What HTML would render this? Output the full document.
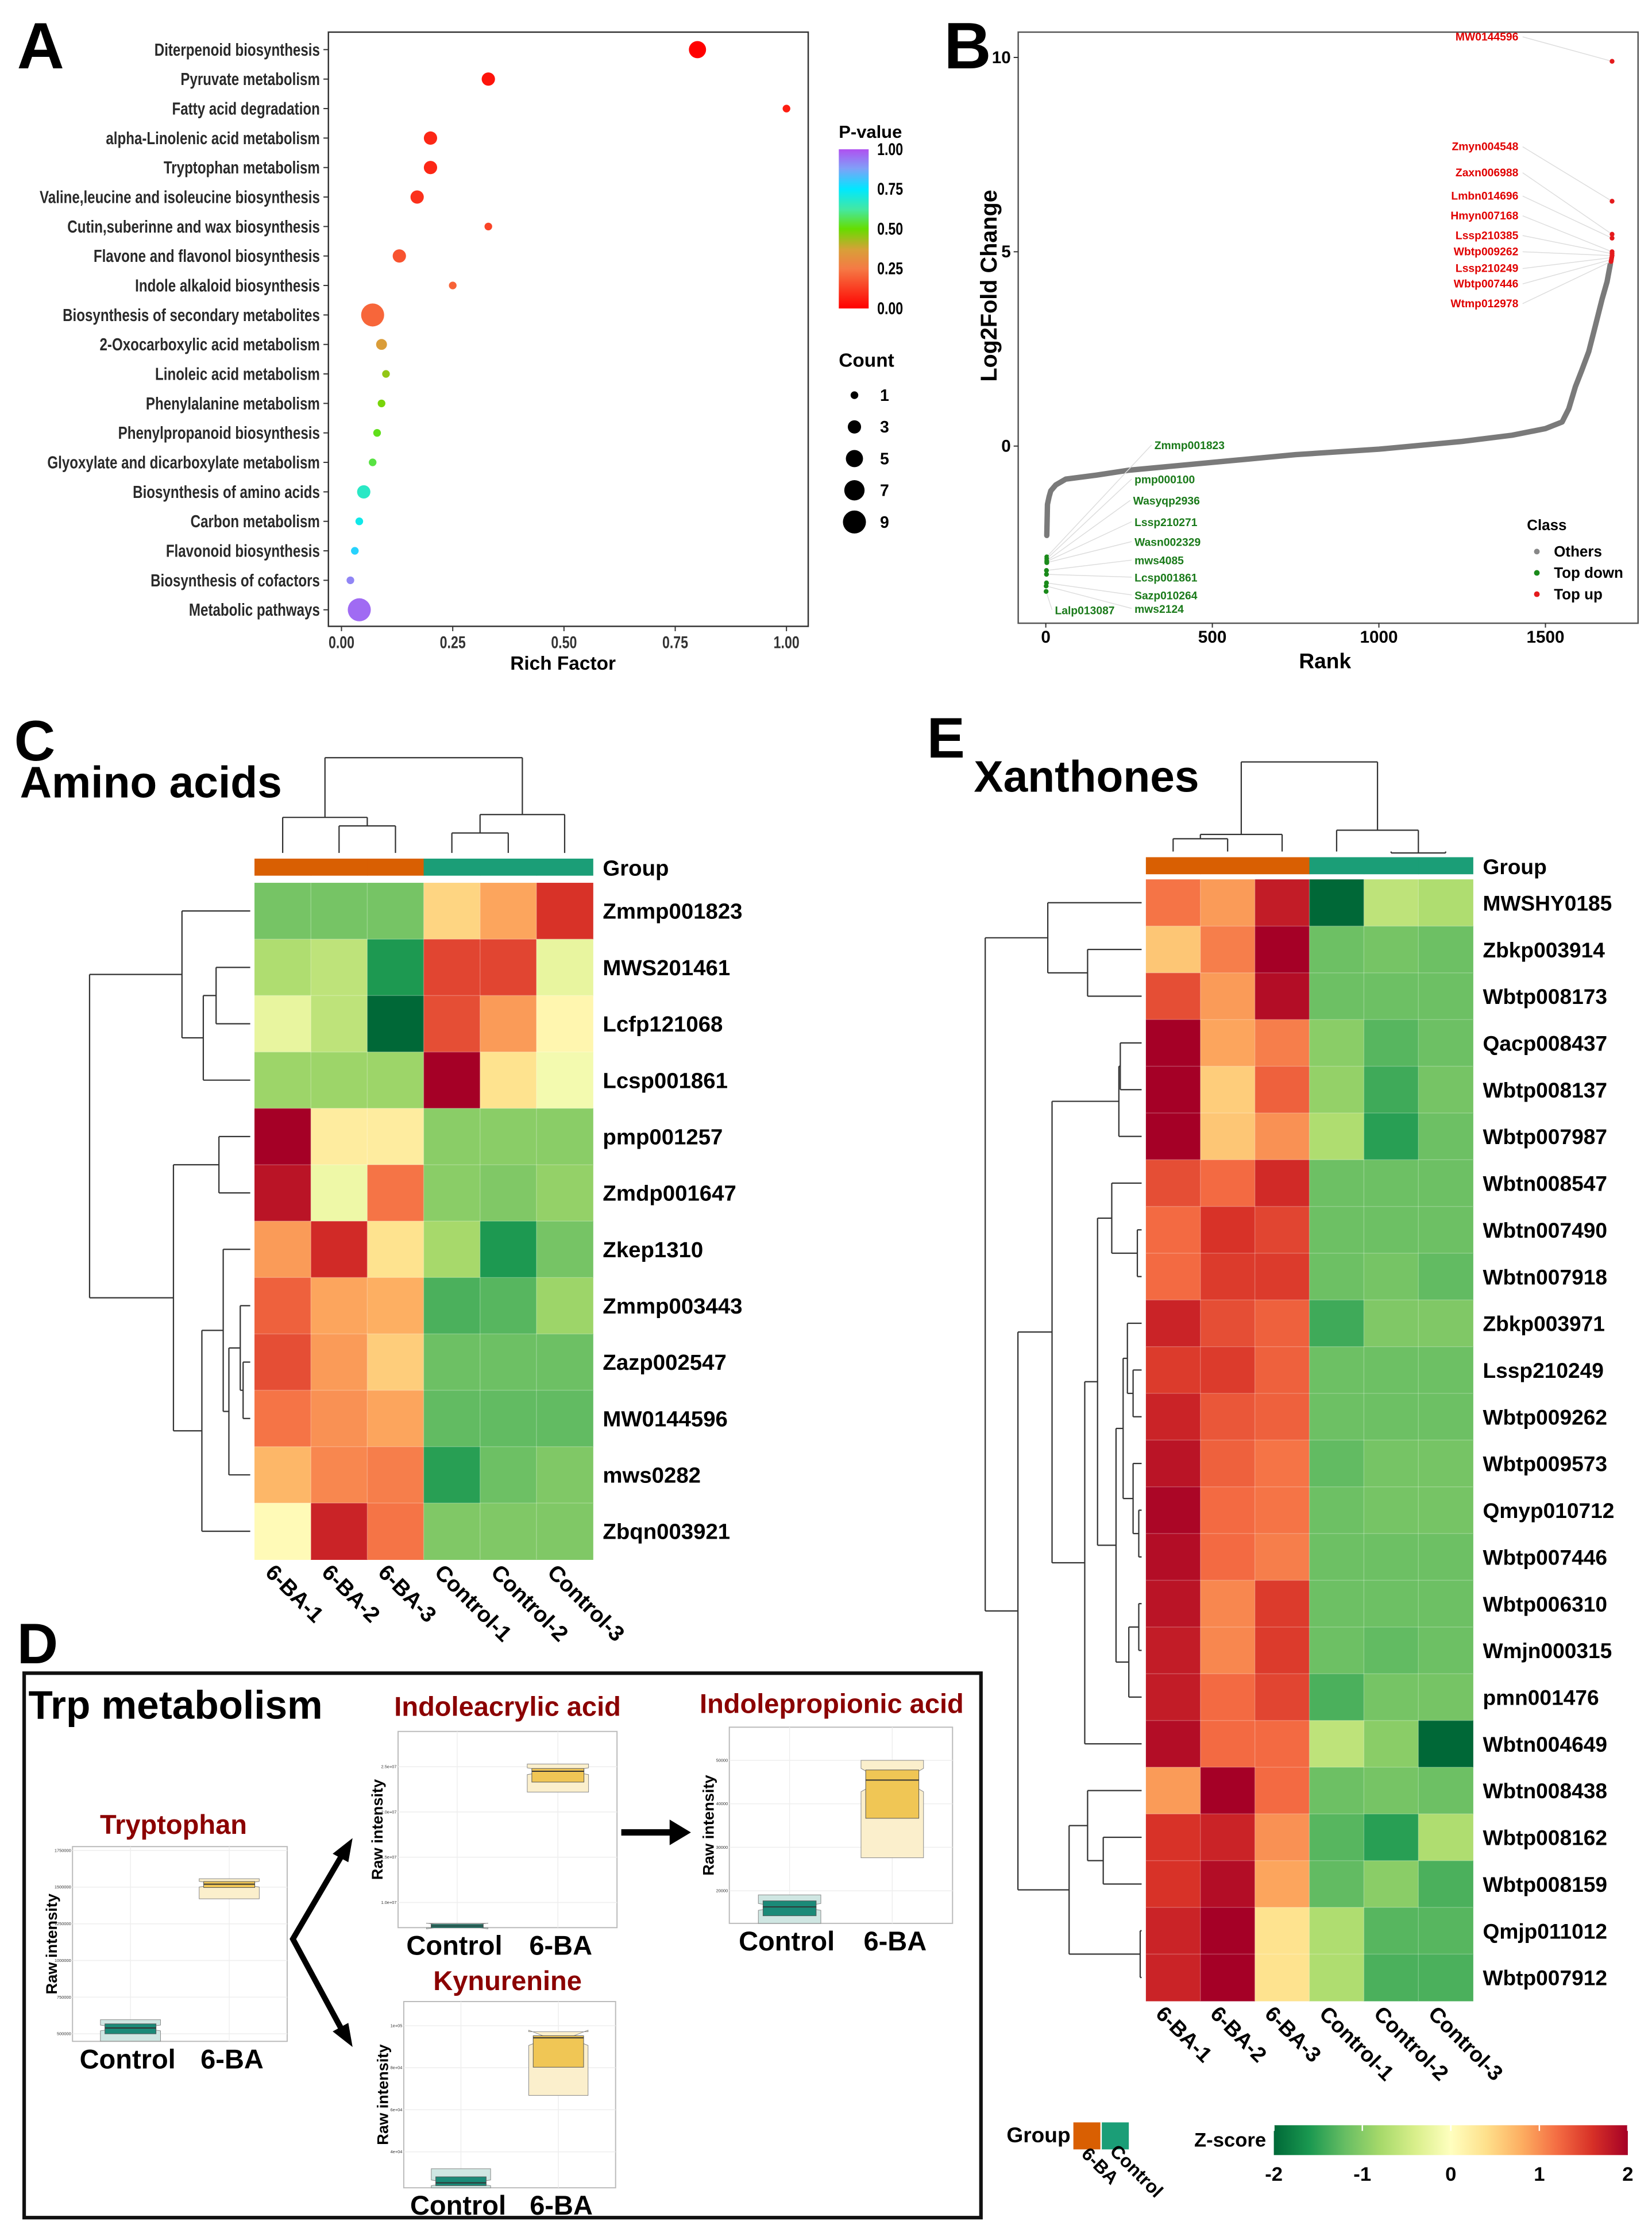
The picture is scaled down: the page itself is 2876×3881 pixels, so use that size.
<!DOCTYPE html>
<html><head><meta charset="utf-8">
<style>
html,body{margin:0;padding:0;background:#fff;}
svg{display:block;font-family:"Liberation Sans",Arial,sans-serif;}
text{font-family:"Liberation Sans",Arial,sans-serif;}
</style></head>
<body>
<svg id="fig" xmlns="http://www.w3.org/2000/svg" width="2876" height="3881" viewBox="0 0 1162 1568" preserveAspectRatio="none">
<rect x="0" y="0" width="1162" height="1568" fill="#fff"/>
<text x="12" y="48" font-size="46" font-weight="bold">A</text>
<text x="664" y="48" font-size="46" font-weight="bold">B</text>
<text x="10" y="535" font-size="40" font-weight="bold">C</text>
<text x="12" y="1170" font-size="40" font-weight="bold">D</text>
<text x="652" y="533" font-size="40" font-weight="bold">E</text>
<text x="14" y="561" font-size="31" font-weight="bold">Amino acids</text>
<text x="685" y="557" font-size="31" font-weight="bold">Xanthones</text>
<rect x="17" y="1177" width="673" height="383" fill="none" stroke="#111" stroke-width="2.5"/>
<text x="20" y="1209" font-size="28" font-weight="bold">Trp metabolism</text>
</svg>
<script>
// ---------- Panel A data ----------
const pathways=["Diterpenoid biosynthesis","Pyruvate metabolism","Fatty acid degradation","alpha-Linolenic acid metabolism","Tryptophan metabolism","Valine,leucine and isoleucine biosynthesis","Cutin,suberinne and wax biosynthesis","Flavone and flavonol biosynthesis","Indole alkaloid biosynthesis","Biosynthesis of secondary metabolites","2-Oxocarboxylic acid metabolism","Linoleic acid metabolism","Phenylalanine metabolism","Phenylpropanoid biosynthesis","Glyoxylate and dicarboxylate metabolism","Biosynthesis of amino acids","Carbon metabolism","Flavonoid biosynthesis","Biosynthesis of cofactors","Metabolic pathways"];
const richFactor=[0.80,0.33,1.00,0.20,0.20,0.17,0.33,0.13,0.25,0.07,0.09,0.10,0.09,0.08,0.07,0.05,0.04,0.03,0.02,0.04];
const pValue=[0.00,0.04,0.06,0.08,0.08,0.10,0.14,0.17,0.20,0.21,0.36,0.45,0.48,0.52,0.55,0.67,0.72,0.79,0.92,0.96];
const geneCount=[5,3,1,3,3,3,1,3,1,9,2,1,1,1,1,3,1,1,1,9];
const richTicks=[0,0.25,0.5,0.75,1.0];
const pTicks=[1.00,0.75,0.50,0.25,0.00];
const countLegend=[1,3,5,7,9];
// ---------- Panel B data ----------
const curveRank=[3,5,10,15,30,60,150,250,500,750,1000,1250,1400,1500,1550,1570,1590,1610,1630,1650,1670,1685,1695];
const curveLFC=[-2.3,-1.5,-1.3,-1.15,-1.0,-0.85,-0.75,-0.62,-0.42,-0.22,-0.08,0.12,0.28,0.45,0.62,0.96,1.53,1.97,2.43,3.1,3.78,4.23,4.69];
const upNames=["MW0144596","Zmyn004548","Zaxn006988","Lmbn014696","Hmyn007168","Lssp210385","Wbtp009262","Lssp210249","Wbtp007446","Wtmp012978"];
const upRank=[1700,1700,1700,1700,1700,1700,1700,1699,1698,1697];
const upLFC=[9.9,6.3,5.45,5.35,5.0,4.95,4.9,4.85,4.8,4.75];
const downNames=["Zmmp001823","pmp000100","Wasyqp2936","Lssp210271","Wasn002329","mws4085","Lcsp001861","Sazp010264","mws2124","Lalp013087"];
const downRank=[3,3,3,3,3,2,2,2,1,1];
const downLFC=[-2.85,-2.9,-2.95,-2.97,-3.0,-3.2,-3.3,-3.52,-3.6,-3.74];
const rankTicks=[0,500,1000,1500];
const lfcTicks=[0,5,10];
// ---------- Heatmap C data ----------
const samples=["6-BA-1","6-BA-2","6-BA-3","Control-1","Control-2","Control-3"];
const aminoRows=["Zmmp001823","MWS201461","Lcfp121068","Lcsp001861","pmp001257","Zmdp001647","Zkep1310","Zmmp003443","Zazp002547","MW0144596","mws0282","Zbqn003921"];
const aminoZ=[
[-0.9,-0.9,-0.9,0.4,0.7,1.3],
[-0.6,-0.5,-1.3,1.2,1.2,-0.2],
[-0.2,-0.5,-2.0,1.15,0.75,0.1],
[-0.7,-0.7,-0.7,2.0,0.3,-0.1],
[1.9,0.2,0.2,-0.8,-0.8,-0.8],
[1.5,-0.15,0.95,-0.8,-0.85,-0.75],
[0.75,1.35,0.3,-0.65,-1.3,-0.9],
[1.05,0.7,0.65,-1.1,-1.05,-0.7],
[1.15,0.75,0.45,-0.95,-0.95,-0.95],
[0.95,0.8,0.7,-1.0,-1.0,-1.0],
[0.6,0.85,0.9,-1.25,-0.95,-0.85],
[0.05,1.4,0.95,-0.85,-0.85,-0.85]];
// ---------- Heatmap E data ----------
const xanRows=["MWSHY0185","Zbkp003914","Wbtp008173","Qacp008437","Wbtp008137","Wbtp007987","Wbtn008547","Wbtn007490","Wbtn007918","Zbkp003971","Lssp210249","Wbtp009262","Wbtp009573","Qmyp010712","Wbtp007446","Wbtp006310","Wmjn000315","pmn001476","Wbtn004649","Wbtn008438","Wbtp008162","Wbtp008159","Qmjp011012","Wbtp007912"];
const xanZ=[
[0.95,0.75,1.45,-2.0,-0.5,-0.6],
[0.5,0.9,2.0,-0.95,-0.9,-0.95],
[1.15,0.75,1.55,-0.95,-0.95,-0.95],
[1.8,0.7,0.9,-0.8,-1.05,-0.95],
[1.8,0.45,1.05,-0.75,-1.15,-0.9],
[1.95,0.5,0.8,-0.6,-1.25,-0.95],
[1.15,1.0,1.35,-0.95,-0.95,-0.95],
[1.0,1.3,1.2,-0.95,-0.95,-0.95],
[1.0,1.25,1.25,-0.95,-0.9,-1.0],
[1.4,1.15,1.05,-1.15,-0.85,-0.85],
[1.25,1.25,1.05,-0.95,-0.95,-0.95],
[1.4,1.1,1.05,-0.95,-0.95,-0.95],
[1.5,1.05,0.95,-1.0,-0.9,-0.9],
[1.6,1.0,0.95,-0.95,-0.9,-0.9],
[1.55,1.0,0.9,-0.95,-0.95,-0.95],
[1.5,0.85,1.25,-0.95,-0.95,-0.95],
[1.45,0.85,1.25,-0.95,-1.0,-0.95],
[1.45,1.0,1.2,-1.1,-0.9,-0.9],
[1.55,1.0,1.0,-0.5,-0.8,-1.7],
[0.75,1.8,1.0,-0.95,-0.9,-0.95],
[1.3,1.4,0.8,-1.05,-1.25,-0.6],
[1.3,1.55,0.7,-1.0,-0.8,-1.1],
[1.4,1.7,0.3,-0.6,-1.05,-1.05],
[1.4,1.7,0.3,-0.6,-1.1,-1.1]];
const zTicks=[-2,-1,0,1,2];
// ---------- Panel D data (q1, median, q3, lo, hi) ----------
const trpControl=[500000,540000,568000,450000,596000];
const trp6BA=[1497000,1520000,1538000,1420000,1557000];
const trpTicks=[500000,750000,1000000,1250000,1500000,1750000];
const acrControl=[7200000,7400000,7600000,7000000,7700000];
const acr6BA=[23300000,24500000,24800000,22200000,25300000];
const acrTicks=[10000000,15000000,20000000,25000000];
const proControl=[14260,16300,17690,12130,19070];
const pro6BA=[36670,45460,47780,27590,50000];
const proTicks=[20000,30000,40000,50000];
const kynControl=[23900,25240,28110,22750,31950];
const kyn6BA=[80260,94250,95210,66840,97130];
const kynTicks=[40000,60000,80000,100000];

const NS='http://www.w3.org/2000/svg';
const svg=document.getElementById('fig');
function mk(tag,attrs,parent){const e=document.createElementNS(NS,tag);for(const k in attrs)e.setAttribute(k,attrs[k]);(parent||svg).appendChild(e);return e;}
function lerpHex(a,b,t){const pa=[1,3,5].map(i=>parseInt(a.substr(i,2),16)),pb=[1,3,5].map(i=>parseInt(b.substr(i,2),16));return 'rgb('+pa.map((v,i)=>Math.round(v+(pb[i]-v)*t)).join(',')+')';}
function ramp(stops,v){if(v<=stops[0][0])return lerpHex(stops[0][1],stops[0][1],0);for(let i=1;i<stops.length;i++){if(v<=stops[i][0]){const t=(v-stops[i-1][0])/(stops[i][0]-stops[i-1][0]);return lerpHex(stops[i-1][1],stops[i][1],t);}}return lerpHex(stops[stops.length-1][1],stops[stops.length-1][1],0);}
const pStops=[[0,'#ff0000'],[0.25,'#f57a45'],[0.37,'#d8a038'],[0.5,'#66dd00'],[0.62,'#44e8a0'],[0.75,'#00e8ff'],[0.88,'#80a0f8'],[1,'#b050f0']];
const zStops=[[-2,'#006837'],[-1.6,'#1a9850'],[-1.2,'#66bd63'],[-0.8,'#a6d96a'],[-0.4,'#d9ef8b'],[0,'#ffffbf'],[0.4,'#fee08b'],[0.8,'#fdae61'],[1.2,'#f46d43'],[1.6,'#d73027'],[2,'#a50026']];
const zGain=1.22;
const defs=mk('defs',{});

// ================= PANEL A =================
const gA=mk('g',{});


const ax=v=>240.2+v*313, ay=i=>34.9+i*20.74;
let e=mk('rect',{x:231,y:22.6,width:337.5,height:418,fill:'#fff',stroke:'#333','stroke-width':1},gA);


pathways.forEach((p,i)=>{
  const t=mk('line',{x1:227.5,x2:231,y1:ay(i),y2:ay(i),stroke:'#333','stroke-width':0.8},gA);
  
  
  const l=mk('text',{x:225,y:ay(i)+4.2,'font-size':12.5,'font-weight':'bold',fill:'#2a2a2a','text-anchor':'end',class:'cond'},gA);
  l.textContent=p;
  
  
});
richTicks.forEach(v=>{
  const t=mk('line',{x1:ax(v),x2:ax(v),y1:440.6,y2:444,stroke:'#333','stroke-width':0.8},gA);
  
  
  const l=mk('text',{x:ax(v),y:456,'font-size':12,'font-weight':'bold',fill:'#333','text-anchor':'middle',class:'cond'},gA);
  l.textContent=v.toFixed(2);
  
  
});
e=mk('text',{x:396,y:471,'font-size':13.5,'font-weight':'bold','text-anchor':'middle'},gA);
e.textContent='Rich Factor';


pathways.forEach((p,i)=>{
  const c=mk('circle',{cx:ax(richFactor[i]),cy:ay(i),r:2.7*Math.sqrt(geneCount[i]),fill:ramp(pStops,pValue[i])},gA);
  
  
});
const lgP=mk('linearGradient',{id:'pgrad',x1:0,y1:1,x2:0,y2:0},defs);
pStops.forEach(s=>{mk('stop',{offset:s[0],'stop-color':s[1]},lgP);});
e=mk('text',{x:590,y:97,'font-size':12.5,'font-weight':'bold'},gA);
e.textContent='P-value';


e=mk('rect',{x:590,y:105,width:21,height:112,fill:'url(#pgrad)'},gA);


pTicks.forEach(v=>{
  const y=105+(1-v)*112;
  const l=mk('text',{x:617,y:y+4,'font-size':12,'font-weight':'bold',class:'cond'},gA);
  l.textContent=v.toFixed(2);
  
  
});
e=mk('text',{x:590,y:258,'font-size':13.5,'font-weight':'bold'},gA);
e.textContent='Count';


countLegend.forEach((c,i)=>{
  const y=278+i*22.3;
  const d=mk('circle',{cx:601,cy:y,r:2.7*Math.sqrt(c),fill:'#000'},gA);
  
  
  const l=mk('text',{x:619,y:y+4,'font-size':11.5,'font-weight':'bold'},gA);
  l.textContent=c;
  
  
});

// ================= PANEL B =================
const gB=mk('g',{});


const bx=r=>735.6+r*0.2343, by=v=>313.8-v*27.34;
e=mk('rect',{x:716.2,y:22.6,width:436,height:415.8,fill:'#fff',stroke:'#555','stroke-width':1},gB);


rankTicks.forEach(v=>{
  const t=mk('line',{x1:bx(v),x2:bx(v),y1:438.4,y2:441.5,stroke:'#333','stroke-width':0.8},gB);
  
  
  const l=mk('text',{x:bx(v),y:452,'font-size':12,'font-weight':'bold','text-anchor':'middle'},gB);
  l.textContent=v;
  
  
});
lfcTicks.forEach(v=>{
  const t=mk('line',{x1:713,x2:716.2,y1:by(v),y2:by(v),stroke:'#333','stroke-width':0.8},gB);
  
  
  const l=mk('text',{x:711,y:by(v)+4,'font-size':12,'font-weight':'bold','text-anchor':'end'},gB);
  l.textContent=v;
  
  
});
e=mk('text',{x:932,y:470,'font-size':15,'font-weight':'bold','text-anchor':'middle'},gB);
e.textContent='Rank';


e=mk('text',{x:0,y:0,'font-size':16,'font-weight':'bold','text-anchor':'middle',transform:'translate(701,201) rotate(-90)'},gB);
e.textContent='Log2Fold Change';


e=mk('polyline',{points:curveRank.map((r,i)=>bx(r)+','+by(curveLFC[i])).join(' '),fill:'none',stroke:'#7a7a7a','stroke-width':3.8,'stroke-linejoin':'round','stroke-linecap':'round'},gB);


const upLabelY=[28.4,105.7,124,140.4,154.3,168.2,179.6,191.4,202.2,216.1];
upNames.forEach((n,i)=>{
  const px=bx(upRank[i]),py=by(upLFC[i]);
  const ln=mk('line',{x1:1071,y1:upLabelY[i]-2.5,x2:px,y2:py,stroke:'#ddd','stroke-width':0.6},gB);
  
  
  const c=mk('circle',{cx:px,cy:py,r:1.7,fill:'#e41a1c'},gB);
  
  
  const l=mk('text',{x:1068,y:upLabelY[i],'font-size':7.8,'font-weight':'bold',fill:'#e00000','text-anchor':'end'},gB);
  l.textContent=n;
  
  
});
const downLabelPos=[[812,316],[798,340],[797,355],[798,370],[798,384],[798,397],[798,409],[798,421.5],[798,431],[742,432]];
downNames.forEach((n,i)=>{
  const px=bx(downRank[i]),py=by(downLFC[i]);
  const ln=mk('line',{x1:downLabelPos[i][0]-2,y1:downLabelPos[i][1]-3,x2:px,y2:py,stroke:'#ddd','stroke-width':0.6},gB);
  
  
  const c=mk('circle',{cx:px,cy:py,r:1.7,fill:'#1a8a1a'},gB);
  
  
  const l=mk('text',{x:downLabelPos[i][0],y:downLabelPos[i][1],'font-size':7.8,'font-weight':'bold',fill:'#1a7a1a'},gB);
  l.textContent=n;
  
  
});
e=mk('text',{x:1074,y:373,'font-size':10.5,'font-weight':'bold'},gB);
e.textContent='Class';


[['Others','#888'],['Top down','#1a8a1a'],['Top up','#e41a1c']].forEach((c,i)=>{
  const d=mk('circle',{cx:1081,cy:388+i*15,r:2,fill:c[1]},gB);
  
  
  const l=mk('text',{x:1093,y:391.5+i*15,'font-size':10.5,'font-weight':'bold'},gB);
  l.textContent=c[0];
  
  
});

// ================= HEATMAPS =================
function dendro(node,orient,leafPos,leafEdge,g){
  if(typeof node==='number') return [leafPos(node),leafEdge];
  const a=dendro(node[0],orient,leafPos,leafEdge,g), b=dendro(node[1],orient,leafPos,leafEdge,g);
  const h=node[2];
  const segs=orient==='row'?[[h,a[0],h,b[0]],[h,a[0],a[1],a[0]],[h,b[0],b[1],b[0]]]:[[a[0],h,b[0],h],[a[0],h,a[0],a[1]],[b[0],h,b[0],b[1]]];
  segs.forEach(s=>{
    const l=mk('line',{x1:s[0],y1:s[1],x2:s[2],y2:s[3],stroke:'#333','stroke-width':0.9},g);
    
    
  });
  return [(a[0]+b[0])/2,h];
}
function heatmap(cfg){
  const g=mk('g',{});
  
  
  const cw=(cfg.x1-cfg.x0)/6, ch=(cfg.y1-cfg.y0)/cfg.rows.length;
  cfg.z.forEach((row,r)=>row.forEach((v,c)=>{
    const cell=mk('rect',{x:cfg.x0+c*cw,y:cfg.y0+r*ch,width:cw+0.3,height:ch+0.3,fill:ramp(zStops,v*zGain)},g);
    
    
  }));
  for(let c=1;c<6;c++){const l=mk('line',{x1:cfg.x0+c*cw,x2:cfg.x0+c*cw,y1:cfg.y0,y2:cfg.y1,stroke:'#fff','stroke-opacity':0.25,'stroke-width':0.6},g);}
  for(let r=1;r<cfg.rows.length;r++){const l=mk('line',{x1:cfg.x0,x2:cfg.x1,y1:cfg.y0+r*ch,y2:cfg.y0+r*ch,stroke:'#fff','stroke-opacity':0.25,'stroke-width':0.6},g);}
  cfg.rows.forEach((n,r)=>{
    const l=mk('text',{x:cfg.x1+7,y:cfg.y0+(r+0.5)*ch+5.5,'font-size':cfg.fs,'font-weight':'bold'},g);
    l.textContent=n;
    
    
  });
  for(let c=0;c<6;c++){
    const gb=mk('rect',{x:cfg.x0+c*cw,y:cfg.gy,width:cw+0.3,height:12,fill:c<3?'#d95f02':'#1b9e77'},g);
    
    
    const cx=cfg.x0+(c+0.5)*cw;
    const l=mk('text',{x:0,y:0,'font-size':cfg.fs,'font-weight':'bold',transform:'translate('+(cx-13)+','+(cfg.y1+10)+') rotate(45)'},g);
    l.textContent=samples[c];
    
    
  }
  const gl=mk('text',{x:cfg.x1+7,y:cfg.gy+12,'font-size':cfg.fs,'font-weight':'bold'},g);
  gl.textContent='Group';
  
  
  dendro(cfg.rowTree,'row',r=>cfg.y0+(r+0.5)*ch,cfg.x0-3,g);
  dendro(cfg.colTree,'col',c=>cfg.x0+(c+0.5)*cw,cfg.gy-4,g);
}
heatmap({name:'amino-acids-heatmap',x0:179,x1:417,y0:621,y1:1097,gy:604,fs:15.5,rows:aminoRows,z:aminoZ,
  rowTree:[[0,[[1,2,152],3,143],128],[[4,5,154],[[6,[[7,[8,9,171],169],10,161],157],11,142],122],63],
  colTree:[[0,[1,2,581],575],[[3,4,586],5,573],533]});
heatmap({name:'xanthones-heatmap',x0:806,x1:1036,y0:618.6,y1:1407.5,gy:603,fs:15,rows:xanRows,z:xanZ,
  rowTree:[[0,[1,2,765],737],[[[[3,4,788],5,787],[[[6,[7,8,800],782],[[[9,[10,11,797],793],[12,[13,14,801],797],790],[[15,16,801],17,794],785],772],18,763],740],[[19,[20,21,776],765],[22,23,802],752],716],693],
  colTree:[[[0,1,590],2,587],[3,[4,5,600],584],536]});
e=mk('text',{x:708,y:1507,'font-size':15,'font-weight':'bold'});
e.textContent='Group';


e=mk('rect',{x:755,y:1493,width:19,height:19,fill:'#d95f02'});


e=mk('rect',{x:775,y:1493,width:19,height:19,fill:'#1b9e77'});


e=mk('text',{x:0,y:0,'font-size':13,'font-weight':'bold',transform:'translate(760,1516) rotate(45)'});
e.textContent='6-BA';


e=mk('text',{x:0,y:0,'font-size':13,'font-weight':'bold',transform:'translate(780,1514) rotate(45)'});
e.textContent='Control';


const lgZ=mk('linearGradient',{id:'zgrad',x1:0,y1:0,x2:1,y2:0},defs);
zStops.forEach(s=>{mk('stop',{offset:(s[0]+2)/4,'stop-color':s[1]},lgZ);});
e=mk('text',{x:840,y:1510,'font-size':14,'font-weight':'bold'});
e.textContent='Z-score';


e=mk('rect',{x:896,y:1495,width:249,height:21,fill:'url(#zgrad)'});


zTicks.forEach(v=>{
  const x=896+(v+2)/4*249;
  const t=mk('line',{x1:x,x2:x,y1:1495,y2:1499,stroke:'#fff','stroke-width':1});
  
  
  const l=mk('text',{x:x,y:1534,'font-size':14,'font-weight':'bold','text-anchor':'middle'});
  l.textContent=v;
  
  
});

// ================= PANEL D =================
function boxPanel(cfg){
  const g=mk('g',{});
  
  
  const [x0,y0,x1,y1]=cfg.rect;
  const vy=v=>cfg.yA+(v-cfg.vA)*(cfg.yB-cfg.yA)/(cfg.vB-cfg.vA);
  let r=mk('rect',{x:x0,y:y0,width:x1-x0,height:y1-y0,fill:'#fff',stroke:'#bbb','stroke-width':0.8},g);
  
  
  const cxs=[x0+(x1-x0)*0.27,x0+(x1-x0)*0.73];
  cxs.forEach(cx=>{const l=mk('line',{x1:cx,x2:cx,y1:y0,y2:y1,stroke:'#eee','stroke-width':0.6},g);});
  cfg.ticks.forEach(v=>{
    const y=vy(v);
    const l=mk('line',{x1:x0,x2:x1,y1:y,y2:y,stroke:'#eee','stroke-width':0.6},g);
    
    
    const t=mk('text',{x:x0-1,y:y+1,'font-size':3,'text-anchor':'end',fill:'#333'},g);
    t.textContent=cfg.fmt(v);
    
    
  });
  [[cfg.control,'#1b8a78','#cfe6e2'],[cfg.ba,'#f0c655','#fbefcc']].forEach((d,i)=>{
    const cx=cxs[i], w=(x1-x0)*0.14;
    const [q1,md,q3,lo,hi]=d[0];
    const yl=Math.min(vy(lo),y1), yh=vy(hi), ym=vy(md);
    const n=Math.max(2,(yl-yh)*0.12);
    const pts=[[cx-w,yh],[cx+w,yh],[cx+w,ym-n],[cx+w*0.35,ym],[cx+w,ym+n],[cx+w,yl],[cx-w,yl],[cx-w,ym+n],[cx-w*0.35,ym],[cx-w,ym-n]];
    const v=mk('polygon',{points:pts.map(p=>p.join(',')).join(' '),fill:d[2],stroke:'#888','stroke-width':0.4},g);
    
    
    const b=mk('rect',{x:cx-w*0.85,y:vy(q3),width:w*1.7,height:Math.max(1.5,vy(q1)-vy(q3)),fill:d[1],stroke:'#555','stroke-width':0.4},g);
    
    
    const m=mk('line',{x1:cx-w*0.85,x2:cx+w*0.85,y1:ym,y2:ym,stroke:'#333','stroke-width':0.8},g);
    
    
  });
  const t=mk('text',{x:cfg.tx,y:cfg.ty,'font-size':19,'font-weight':'bold',fill:'#8b0000','text-anchor':'middle'},g);
  t.textContent=cfg.title;
  
  
  const yl=mk('text',{x:0,y:0,'font-size':11,'font-weight':'bold','text-anchor':'middle',transform:'translate('+(x0-11)+','+((y0+y1)/2)+') rotate(-90)'},g);
  yl.textContent='Raw intensity';
  
  
  ['Control','6-BA'].forEach((s,i)=>{
    const l=mk('text',{x:cxs[i]+(i?2:-2),y:y1+19,'font-size':19,'font-weight':'bold','text-anchor':'middle'},g);
    l.textContent=s;
    
    
  });
}
boxPanel({name:'tryptophan-boxplot',rect:[51,1299,202,1436],vA:500000,yA:1430.7,vB:1750000,yB:1301.7,ticks:trpTicks,fmt:v=>String(v),control:trpControl,ba:trp6BA,title:'Tryptophan',tx:122,ty:1290});
boxPanel({name:'indoleacrylic-acid-boxplot',rect:[280,1218,434,1356],vA:10000000,yA:1338.3,vB:25000000,yB:1242.8,ticks:acrTicks,fmt:v=>(v/1e7).toFixed(1)+'e+07',control:acrControl,ba:acr6BA,title:'Indoleacrylic acid',tx:357,ty:1207});
boxPanel({name:'indolepropionic-acid-boxplot',rect:[513,1215,670,1353],vA:20000,yA:1330.1,vB:50000,yB:1238.3,ticks:proTicks,fmt:v=>String(v),control:proControl,ba:pro6BA,title:'Indolepropionic acid',tx:585,ty:1205});
boxPanel({name:'kynurenine-boxplot',rect:[284,1408,433,1539],vA:40000,yA:1513.7,vB:100000,yB:1425.0,ticks:kynTicks,fmt:v=>(v>=1e5?'1e+05':(v/1e4)+'e+04'),control:kynControl,ba:kyn6BA,title:'Kynurenine',tx:357,ty:1400});
e=mk('polyline',{points:'240,1306 206,1364 240,1427',fill:'none',stroke:'#000','stroke-width':4,'stroke-linejoin':'miter'});


e=mk('polygon',{points:'248,1293 234,1304 245,1310'});


e=mk('polygon',{points:'248,1440 234,1429 245,1423'});


e=mk('line',{x1:437,x2:474,y1:1289,y2:1289,stroke:'#000','stroke-width':4.5});


e=mk('polygon',{points:'486,1289 471,1280 471,1298'});



document.querySelectorAll('text.cond').forEach(t=>{
  const L=t.getComputedTextLength();
  t.setAttribute('textLength',(L*0.78).toFixed(1));
  t.setAttribute('lengthAdjust','spacingAndGlyphs');
});
</script>
</body></html>
